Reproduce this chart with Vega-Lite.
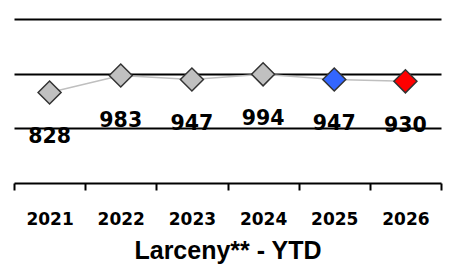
{
  "$schema": "https://vega.github.io/schema/vega-lite/v6.json",
  "autosize": "none",
  "width": 427,
  "height": 164,
  "padding": {"left": 14, "top": 19, "right": 9, "bottom": 82},
  "background": "white",
  "config": {"view": {"stroke": null}},
  "data": {
    "values": [
      {"year": "2021", "value": 828},
      {"year": "2022", "value": 983},
      {"year": "2023", "value": 947},
      {"year": "2024", "value": 994},
      {"year": "2025", "value": 947},
      {"year": "2026", "value": 930}
    ]
  },
  "encoding": {
    "x": {
      "field": "year",
      "type": "ordinal",
      "scale": {"paddingInner": 0, "paddingOuter": 0},
      "axis": {
        "title": "Larceny** - YTD",
        "titleFont": "Liberation Sans",
        "titleFontWeight": "bold",
        "titleFontSize": 25,
        "titleColor": "black",
        "titlePadding": 11,
        "labelAngle": 0,
        "labelFont": "DejaVu Sans",
        "labelFontWeight": "bold",
        "labelFontSize": 17,
        "labelColor": "black",
        "labelPadding": 21,
        "tickBand": "extent",
        "tickColor": "black",
        "tickWidth": 2,
        "tickSize": 7,
        "domainColor": "black",
        "domainWidth": 2,
        "grid": false
      }
    },
    "y": {
      "field": "value",
      "type": "quantitative",
      "scale": {"domain": [0, 1500], "nice": false},
      "axis": {
        "values": [500, 1000, 1500],
        "grid": true,
        "gridColor": "black",
        "gridWidth": 2,
        "gridOpacity": 1,
        "domain": false,
        "ticks": false,
        "labels": false,
        "title": null
      }
    }
  },
  "layer": [
    {
      "mark": {"type": "line", "color": "#bfbfbf", "strokeWidth": 1.5}
    },
    {
      "mark": {"type": "point", "shape": "diamond", "filled": true, "size": 530, "stroke": "#333333", "strokeWidth": 1.5, "opacity": 1},
      "encoding": {
        "fill": {
          "field": "year",
          "type": "nominal",
          "scale": {
            "domain": ["2021", "2022", "2023", "2024", "2025", "2026"],
            "range": ["#c0c0c0", "#c0c0c0", "#c0c0c0", "#c0c0c0", "#3366ff", "#ff0000"]
          },
          "legend": null
        }
      }
    },
    {
      "mark": {"type": "text", "font": "DejaVu Sans", "fontWeight": "bold", "fontSize": 20.5, "color": "black", "baseline": "alphabetic", "dy": 51},
      "encoding": {
        "text": {"field": "value", "type": "quantitative"}
      }
    }
  ]
}
